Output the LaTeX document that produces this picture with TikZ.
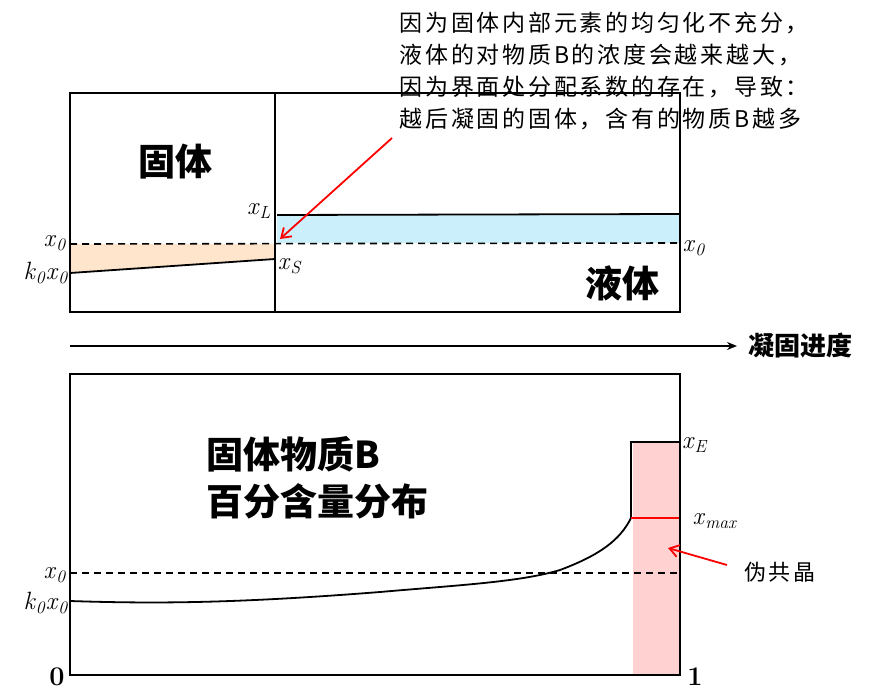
\documentclass[tikz,border=0pt]{standalone}
\usepackage{fontspec}
\newfontfamily\cjk{Noto Sans CJK SC}
\newfontfamily\cjksp[LetterSpace=12]{Noto Sans CJK SC}
\usetikzlibrary{arrows.meta}
\newcommand{\vv}[2]{\textit{#1}\textsubscript{\textit{#2}}}
\begin{document}
\begin{tikzpicture}[x=1pt,y=-1pt,
  box/.style={draw,line width=1.8pt},
  dash0/.style={line width=1.6pt,dash pattern=on 7pt off 5pt},
  lbl/.style={font=\fontsize{25}{25}\selectfont,inner sep=0pt},
  big/.style={font=\cjk\bfseries\fontsize{37}{47}\selectfont},
  note/.style={font=\cjksp\fontsize{23}{32}\selectfont,align=left,anchor=north west},
  redarr/.style={draw=red,line width=1.8pt,-{Straight Barb[length=9pt,width=12pt]}}]
\useasboundingbox (0,0) rectangle (872,695);
% top box
\fill[orange!20] (70,244) -- (275,244) -- (275,259) -- (70,273) -- cycle;
\fill[cyan!20] (277,215) rectangle (680,243);
\draw[line width=1.8pt] (277,215) -- (680,214);
\draw[line width=1.8pt] (70,273) -- (275,259);
\draw[dash0] (70,244) -- (680,243);
\draw[box] (70,93) rectangle (680,312);
\draw[line width=1.8pt] (275,93) -- (275,312);
\node[lbl] (tx0) at (55,243) {\vv{x}{0}};
\node[lbl] (tk0) at (46,273) {\vv{k}{0}\vv{x}{0}};
\node[lbl] (txl) at (259,211) {\vv{x}{L}};
\node[lbl] (txs) at (290,266) {\vv{x}{S}};
\node[lbl] (tx0r) at (694,248) {\vv{x}{0}};
\node[big] (gt) at (175,162) {固体};
\node[big] (yt) at (622,283) {液体};
\node[note] (nt) at (396,9) {因为固体内部元素的均匀化不充分，\\液体的对物质B的浓度会越来越大，\\因为界面处分配系数的存在，导致：\\越后凝固的固体，含有的物质B越多};
\coordinate (na) at (392,138);
\coordinate (nb) at (280,239);
\draw[redarr] (na) -- (nb);
% axis
\coordinate (a0) at (70,346);
\coordinate (a1) at (737,346);
\draw[line width=1.8pt,-{Stealth[length=10pt,width=8pt]}] (a0) -- (a1);
\node[font=\cjk\bfseries\fontsize{26}{26}\selectfont] (ax) at (800,346) {凝固进度};
% bottom box
\fill[red!18] (633,442) rectangle (680,675);
\draw[dash0] (70,573) -- (680,573);
\draw[line width=1.8pt] (70,601) .. controls (160,604) and (240,603) .. (380,592) .. controls (460,585) and (520,582) .. (560,570) .. controls (600,555) and (620,540) .. (631,518);
\draw[line width=1.8pt] (631,518) -- (631,442) -- (680,442);
\draw[red,line width=1.8pt] (631,518) -- (680,518);
\draw[box] (70,374) rectangle (680,675);
\node[lbl] (bx0) at (55,575) {\vv{x}{0}};
\node[lbl] (bk0) at (46,603) {\vv{k}{0}\vv{x}{0}};
\node[lbl] (bxe) at (695,445) {\vv{x}{E}};
\node[lbl] (bxm) at (715,521) {\vv{x}{max}};
\node[big,align=left,anchor=west] (bt) at (203,478) {固体物质B\\百分含量分布};
\node[font=\cjksp\fontsize{22}{22}\selectfont] (wg) at (780,572) {伪共晶};
\coordinate (wa) at (727,565);
\coordinate (wb) at (668,548);
\draw[redarr] (wa) -- (wb);
\node[font=\bfseries\fontsize{27}{27}\selectfont] (z0) at (57,677) {0};
\node[font=\bfseries\fontsize{27}{27}\selectfont] (z1) at (695,677) {1};
\end{tikzpicture}
\end{document}
